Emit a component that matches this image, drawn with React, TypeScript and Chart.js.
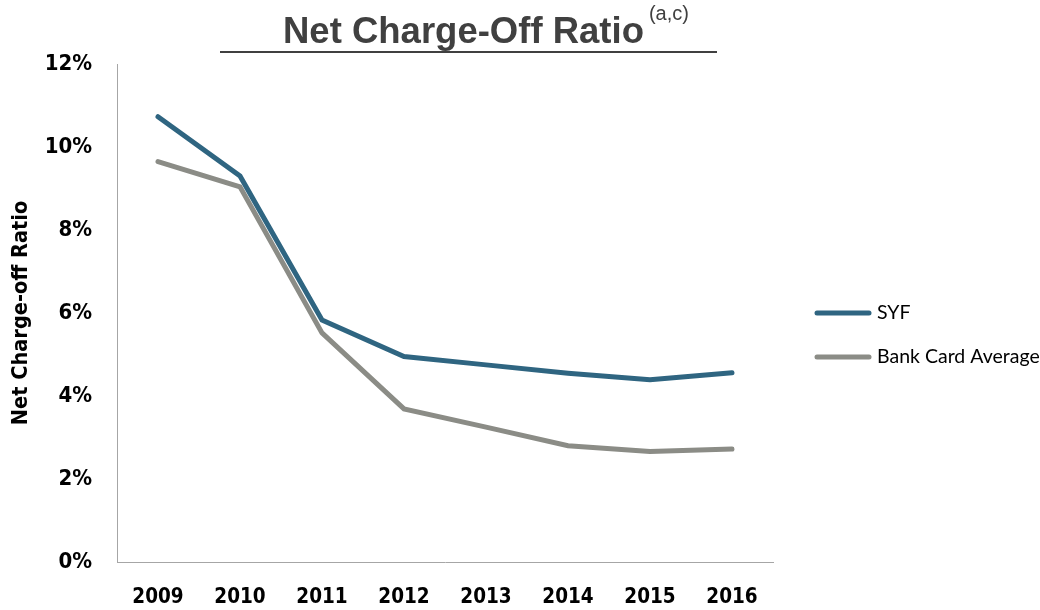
import React, { useEffect, useRef } from "react";
import { Chart, registerables } from "chart.js";

Chart.register(...registerables);

const years = ["2009", "2010", "2011", "2012", "2013", "2014", "2015", "2016"];
const syfValues = [10.73, 9.3, 5.83, 4.95, 4.75, 4.55, 4.39, 4.56];
const bankCardValues = [9.65, 9.04, 5.52, 3.69, 3.25, 2.8, 2.66, 2.72];
const seriesLabels = ["SYF", "Bank Card Average"];
const seriesColors = ["#2F6581", "#8B8C86"];
const chartTitle = "Net Charge-Off Ratio";
const titleNote = "(a,c)";
const yAxisTitle = "Net Charge-off Ratio";

const NARROW = "'Liberation Sans Narrow', 'DejaVu Sans Condensed', sans-serif";

const overlayPlugin = {
  id: "overlay",
  afterDraw(chart: any) {
    const ctx = chart.ctx;
    ctx.save();
    // Title
    ctx.fillStyle = "#404040";
    ctx.textBaseline = "alphabetic";
    ctx.textAlign = "left";
    ctx.font = "bold 36.5px 'Liberation Sans', Arial, sans-serif";
    const tx = 283;
    ctx.fillText(chartTitle, tx, 43);
    const tw = ctx.measureText(chartTitle).width;
    ctx.font = "20px 'Liberation Sans', Arial, sans-serif";
    ctx.fillText(titleNote, tx + tw + 5, 20);
    ctx.strokeStyle = "#404040";
    ctx.lineWidth = 2;
    ctx.beginPath();
    ctx.moveTo(220, 52);
    ctx.lineTo(717, 52);
    ctx.stroke();

    // Legend
    const ys = [313, 357];
    chart.data.datasets.forEach((ds: any, i: number) => {
      const y = ys[i];
      ctx.strokeStyle = ds.borderColor;
      ctx.lineWidth = 5;
      ctx.lineCap = "round";
      ctx.beginPath();
      ctx.moveTo(817, y);
      ctx.lineTo(869, y);
      ctx.stroke();
      ctx.fillStyle = "#000";
      ctx.textBaseline = "middle";
      ctx.font = "19.5px Lato, 'Open Sans', sans-serif";
      ctx.fillText(ds.label, 877, y);
    });
    ctx.restore();
  },
};

export default function App() {
  const ref = useRef<HTMLCanvasElement | null>(null);
  useEffect(() => {
    if (!ref.current) return;
    const chart = new Chart(ref.current, {
      type: "line",
      data: {
        labels: years,
        datasets: [
          {
            label: seriesLabels[0],
            data: syfValues,
            borderColor: seriesColors[0],
            backgroundColor: seriesColors[0],
            borderWidth: 5,
            pointRadius: 0,
            borderCapStyle: "round",
            borderJoinStyle: "miter",
            tension: 0,
          },
          {
            label: seriesLabels[1],
            data: bankCardValues,
            borderColor: seriesColors[1],
            backgroundColor: seriesColors[1],
            borderWidth: 5,
            pointRadius: 0,
            borderCapStyle: "round",
            borderJoinStyle: "miter",
            tension: 0,
          },
        ],
      },
      options: {
        animation: false,
        responsive: false,
        events: [],
        layout: { padding: { top: 64, right: 267, left: 0, bottom: 0 } },
        plugins: {
          legend: { display: false },
          tooltip: { enabled: false },
        },
        scales: {
          x: {
            offset: true,
            grid: { display: false, drawTicks: false },
            border: { display: true, color: "#A6A6A6", width: 1 },
            ticks: {
              color: "#000",
              font: { family: NARROW, weight: "bold", size: 20.5 },
              padding: 23,
              maxRotation: 0,
            },
            afterFit: (s: any) => {
              s.height = 48;
            },
          },
          y: {
            min: 0,
            max: 12,
            grid: { display: false, drawTicks: false },
            border: { display: true, color: "#A6A6A6", width: 1 },
            ticks: {
              stepSize: 2,
              color: "#000",
              font: { family: NARROW, weight: "bold", size: 22 },
              padding: 25,
              callback: (v: any) => v + "%",
            },
            title: {
              display: true,
              text: yAxisTitle,
              color: "#000",
              font: { family: NARROW, weight: "bold", size: 21.6 },
              padding: { top: 8, bottom: 0 },
            },
            afterFit: (s: any) => {
              s.width = 117;
            },
          },
        },
      },
      plugins: [overlayPlugin],
    });
    return () => chart.destroy();
  }, []);
  return (
    <div style={{ position: "fixed", left: 0, top: 0, width: 1040, height: 610, background: "#fff" }}>
      <canvas ref={ref} width={1040} height={610} style={{ display: "block" }} />
    </div>
  );
}
